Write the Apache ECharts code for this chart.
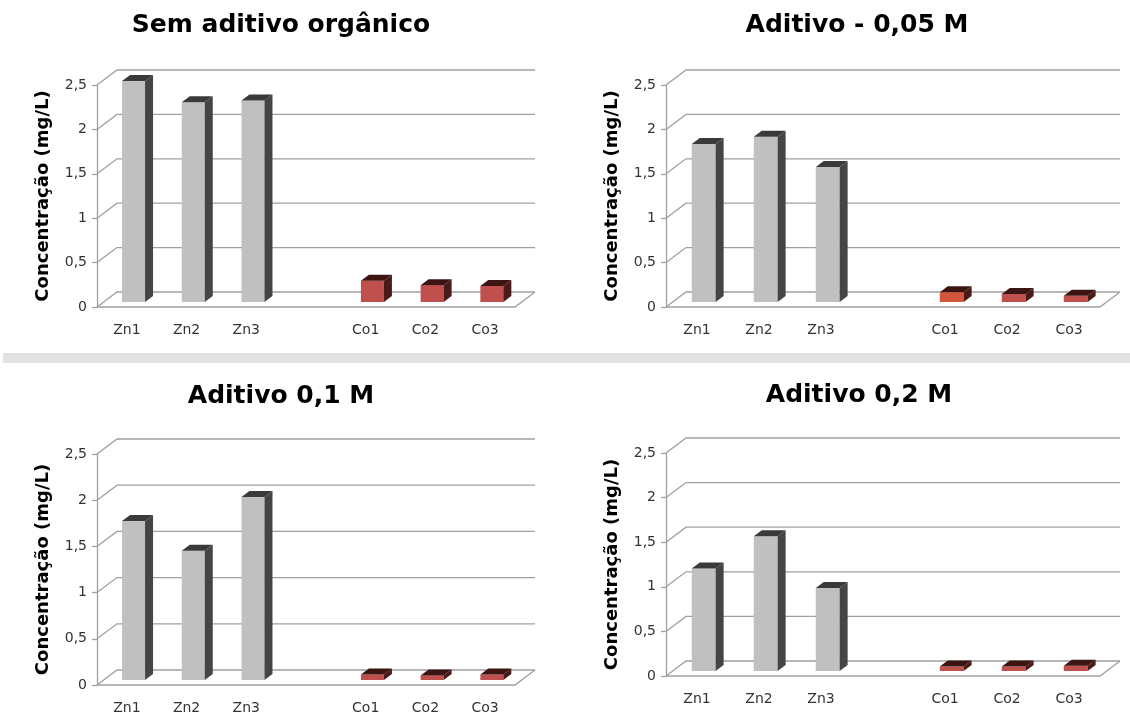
<!DOCTYPE html>
<html><head><meta charset="utf-8">
<script src="https://cdn.jsdelivr.net/npm/echarts@6/dist/echarts.min.js"></script>
<style>html,body{margin:0;padding:0;background:#fff}#chart{width:1130px;height:715px}</style>
</head><body><div id="chart"></div>
<script>
// ---- data ----
const categories = ['Zn1', 'Zn2', 'Zn3', '', 'Co1', 'Co2', 'Co3'];
const titles = ['Sem aditivo orgânico', 'Aditivo - 0,05 M', 'Aditivo 0,1 M', 'Aditivo 0,2 M'];
const yAxisName = 'Concentração (mg/L)';
const yTicks = [0, 0.5, 1, 1.5, 2, 2.5];
const semAditivo = [2.49, 2.25, 2.27, null, 0.24, 0.19, 0.18];
const aditivo005 = [1.78, 1.86, 1.52, null, 0.11, 0.09, 0.07];
const aditivo01  = [1.72, 1.40, 1.98, null, 0.06, 0.05, 0.06];
const aditivo02  = [1.15, 1.51, 0.93, null, 0.05, 0.05, 0.06];
const seriesValues = [semAditivo, aditivo005, aditivo01, aditivo02];

// ---- layout / style ----
const panels = [
  {left: 97,  top: 85,  width: 418, height: 222, tx: 281, ty: 25},
  {left: 666, top: 85,  width: 434, height: 222, tx: 857, ty: 25},
  {left: 97,  top: 454, width: 418, height: 231, tx: 281, ty: 396},
  {left: 666, top: 453, width: 434, height: 223, tx: 859, ty: 395}
];
const DX = 20, DY = -15;      // wall depth
const OX = 6.7, OY = -5;      // bar front offset
const BX = 8, BY = -6;        // bar depth
const BAR_RATIO = 0.385;
const FRAME = '#a0a0a0';
const ZN = {front: '#c0c0c0', side: '#454545', top: '#3a3a3a'};
const CO = {front: '#c0504d', side: '#4a1a18', top: '#3c1412'};
const CO_HI = {front: '#d2553c', side: '#4a1a18', top: '#3c1412'};
const FONT = '"DejaVu Sans", sans-serif';

function frameItem(params, api) {
  const cs = params.coordSys;
  const L = cs.x, R = cs.x + cs.width;
  const st = {stroke: FRAME, lineWidth: 1.3, fill: null};
  const children = [];
  yTicks.forEach(v => {
    const y = api.coord([0, v])[1];
    children.push({type: 'polyline', shape: {points: [[L, y], [L + DX, y + DY], [R + DX, y + DY]]}, style: st});
  });
  const y0 = api.coord([0, 0])[1];
  children.push({type: 'polyline', shape: {points: [[L, y0], [R, y0], [R + DX, y0 + DY]]}, style: st});
  return {type: 'group', children: children, silent: true};
}

function makeBarItem(panelIdx) {
  return function (params, api) {
    const i = api.value(0), v = api.value(1);
    const p = api.coord([i, v]), p0 = api.coord([i, 0]);
    const band = api.size([1, 0])[0];
    const w = band * BAR_RATIO;
    const xl = p[0] - w / 2 + OX, xr = xl + w;
    const top = p[1] + OY, bot = p0[1] + OY;
    const name = categories[i];
    let c = name.indexOf('Zn') === 0 ? ZN : CO;
    if (panelIdx === 1 && name === 'Co1') c = CO_HI;
    return {type: 'group', children: [
      {type: 'polygon', shape: {points: [[xl, top], [xr, top], [xr, bot], [xl, bot]]}, style: {fill: c.front}},
      {type: 'polygon', shape: {points: [[xr, top], [xr + BX, top + BY], [xr + BX, bot + BY], [xr, bot]]}, style: {fill: c.side}},
      {type: 'polygon', shape: {points: [[xl, top], [xl + BX, top + BY], [xr + BX, top + BY], [xr, top]]}, style: {fill: c.top}}
    ]};
  };
}

const grid = [], xAxis = [], yAxis = [], series = [], graphic = [];
panels.forEach((pn, k) => {
  grid.push({left: pn.left, top: pn.top, width: pn.width, height: pn.height, containLabel: false});
  xAxis.push({
    type: 'category', gridIndex: k, data: categories,
    axisLine: {show: false}, axisTick: {show: false},
    axisLabel: {margin: 16, color: '#333', fontSize: 14, fontFamily: FONT}
  });
  yAxis.push({
    type: 'value', gridIndex: k, min: 0, max: 2.5, interval: 0.5,
    axisLine: {show: true, lineStyle: {color: FRAME, width: 1.3}},
    axisTick: {show: true, length: 5, lineStyle: {color: FRAME, width: 1.3}},
    splitLine: {show: false},
    axisLabel: {margin: 10, color: '#333', fontSize: 14, fontFamily: FONT,
      formatter: v => String(v).replace('.', ',')},
    name: yAxisName, nameLocation: 'middle', nameGap: 45, nameRotate: 90,
    nameTextStyle: {fontSize: 18, fontWeight: 'bold', fontFamily: FONT, color: '#000'}
  });
  series.push({
    type: 'custom', xAxisIndex: k, yAxisIndex: k, silent: true, z: 1,
    renderItem: frameItem, data: [[0, 0]]
  });
  const vals = seriesValues[k];
  const data = [];
  vals.forEach((v, i) => { if (v !== null) data.push([i, v]); });
  series.push({
    type: 'custom', xAxisIndex: k, yAxisIndex: k, silent: true, z: 2,
    renderItem: makeBarItem(k), data: data
  });
  graphic.push({
    type: 'text', x: pn.tx, y: pn.ty, silent: true,
    style: {text: titles[k], textAlign: 'center', textVerticalAlign: 'middle',
      fontSize: 25, fontWeight: 'bold', fontFamily: FONT, fill: '#000'}
  });
});
graphic.push({type: 'rect', shape: {x: 3, y: 353, width: 1127, height: 10}, style: {fill: '#e2e2e2'}, silent: true, z: -1});

const chart = echarts.init(document.getElementById('chart'), null, {renderer: 'canvas'});
chart.setOption({animation: false, backgroundColor: '#fff', grid, xAxis, yAxis, series, graphic});
</script>
</body></html>
